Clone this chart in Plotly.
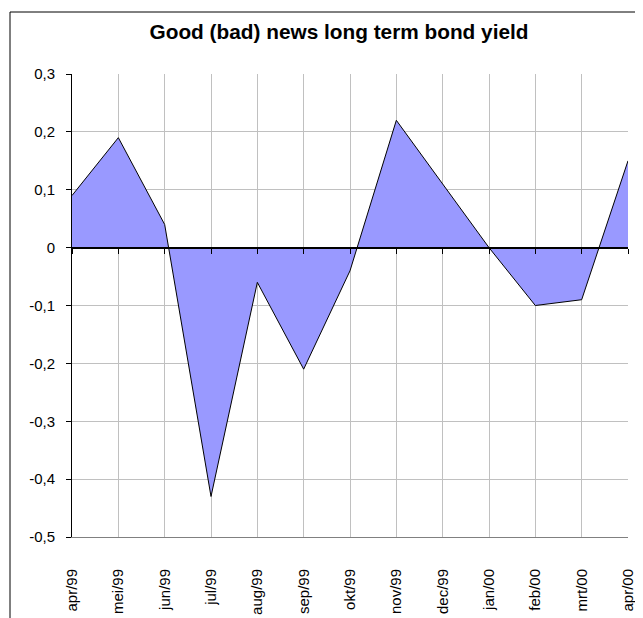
import plotly.graph_objects as go

months = ["apr/99", "mei/99", "jun/99", "jul/99", "aug/99", "sep/99", "okt/99",
          "nov/99", "dec/99", "jan/00", "feb/00", "mrt/00", "apr/00"]
news = [0.09, 0.19, 0.04, -0.43, -0.06, -0.21, -0.04, 0.22, 0.11, 0.0, -0.10, -0.09, 0.15]
y_tickvals = [0.3, 0.2, 0.1, 0, -0.1, -0.2, -0.3, -0.4, -0.5]
y_ticktext = ["0,3", "0,2", "0,1", "0", "-0,1", "-0,2", "-0,3", "-0,4", "-0,5"]
title = "Good (bad) news long term bond yield"

# page body has an 8px margin, so the figure is drawn at (8, 8)
W, H = 635, 610
L, R, T, B = 64, 15, 66, 81
pw, ph = W - L - R, H - T - B

fig = go.Figure()
fig.add_trace(go.Scatter(
    x=months, y=news, mode="lines",
    line=dict(color="black", width=1),
    fill="tozeroy", fillcolor="#9999FF",
    hoverinfo="x+y", showlegend=False,
))
fig.add_trace(go.Scatter(x=months, y=[0] * len(months), mode="lines",
                         line=dict(width=0), xaxis="x2", showlegend=False,
                         hoverinfo="skip"))

font = "Liberation Sans, Arial, sans-serif"
ymin, ymax = -0.5, 0.3
zero_pos = (0 - ymin) / (ymax - ymin)

fig.update_layout(
    width=W, height=H,
    margin=dict(l=L, r=R, t=T, b=B, autoexpand=False),
    paper_bgcolor="white", plot_bgcolor="white",
    title=dict(text="<b>" + title + "</b>", x=(331 - L) / pw, xref="paper",
               xanchor="center", y=1 - 24 / H, yanchor="middle",
               font=dict(family=font, size=20.8, color="black")),
    xaxis=dict(
        type="category", categoryorder="array", categoryarray=months,
        range=[0, len(months) - 1], automargin=False,
        showgrid=True, gridcolor="#C0C0C0", gridwidth=1,
        showline=True, linecolor="#808080", linewidth=1,
        ticks="", tickangle=-90, ticklabelstandoff=25,
        tickfont=dict(family=font, size=15, color="black"),
        zeroline=False, fixedrange=True,
    ),
    xaxis2=dict(
        type="category", categoryorder="array", categoryarray=months,
        range=[0, len(months) - 1], overlaying="x", anchor="free",
        position=zero_pos, side="bottom", automargin=False,
        showgrid=False, showline=True, linecolor="black", linewidth=2,
        ticks="outside", ticklen=5, tickcolor="black", tickwidth=1,
        showticklabels=False, zeroline=False,
    ),
    yaxis=dict(
        range=[ymin, ymax], tickvals=y_tickvals, ticktext=y_ticktext,
        automargin=False,
        showgrid=True, gridcolor="#C0C0C0", gridwidth=1,
        showline=True, linecolor="black", linewidth=1,
        ticks="outside", ticklen=5, tickcolor="black", ticklabelstandoff=8,
        tickfont=dict(family=font, size=15, color="black"),
        zeroline=False,
    ),
    shapes=[dict(type="rect", xref="paper", yref="paper",
                 x0=(2 - L) / pw, x1=(W + 10 - L) / pw,
                 y0=-(H + 10 - T - ph) / ph, y1=(T + ph - 4) / ph,
                 line=dict(color="black", width=1), fillcolor="rgba(0,0,0,0)",
                 layer="below")],
)

fig.write_html("out.html")
